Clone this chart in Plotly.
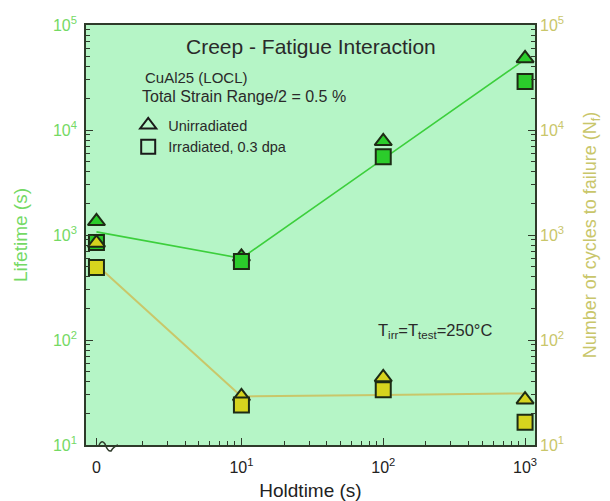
import plotly.graph_objects as go

# Hold time of each test (s); 0 means pure fatigue, drawn left of the axis break
holdtime = [0, 10, 100, 1000]
ZERO_POS = 0.95  # plotting position used for holdtime 0 on the log axis

# Lifetime (s), left axis
lifetime_unirr = [1350, 620, 7800, 48000]
lifetime_irr = [850, 560, 5550, 29000]
lifetime_trend = [1070, 600, 5300, 47000]

# Number of cycles to failure, right axis
cycles_unirr = [840, 29, 44, 27]
cycles_irr = [490, 24, 33.5, 16.5]
cycles_trend = [520, 29, 30, 31]

x_tick_vals = [ZERO_POS, 10, 100, 1000]
x_tick_text = ["0", "10<sup>1</sup>", "10<sup>2</sup>", "10<sup>3</sup>"]
y_tick_vals = [10, 100, 1000, 10000, 100000]
y_tick_text = ["10<sup>1</sup>", "10<sup>2</sup>", "10<sup>3</sup>", "10<sup>4</sup>", "10<sup>5</sup>"]

xpos = [ZERO_POS if h == 0 else h for h in holdtime]

FONT = "Arial, Liberation Sans, sans-serif"
GREEN_LINE = "#3ccf3c"
YELLOW_LINE = "#c9c76a"
GREEN_FILL = "#2bcc2b"
YELLOW_FILL = "#d6d41e"
EDGE = "#1d2b14"
LEFT_COL = "#74d964"
RIGHT_COL = "#c9c66a"
FRAME = "#2e3a2a"

fig = go.Figure()

fig.add_trace(go.Scatter(x=xpos, y=lifetime_trend, mode="lines",
                         line=dict(color=GREEN_LINE, width=1.6),
                         showlegend=False, hoverinfo="skip"))
fig.add_trace(go.Scatter(x=xpos, y=cycles_trend, mode="lines", yaxis="y2",
                         line=dict(color=YELLOW_LINE, width=2),
                         showlegend=False, hoverinfo="skip"))

mk = dict(size=15, line=dict(color=EDGE, width=2))
fig.add_trace(go.Scatter(x=xpos, y=lifetime_unirr, mode="markers", showlegend=False,
                         marker=dict(symbol="triangle-up", color=GREEN_FILL, **mk)))
fig.add_trace(go.Scatter(x=xpos, y=lifetime_irr, mode="markers", showlegend=False,
                         marker=dict(symbol="square", color=GREEN_FILL, **mk)))
fig.add_trace(go.Scatter(x=xpos, y=cycles_unirr, mode="markers", showlegend=False, yaxis="y2",
                         marker=dict(symbol="triangle-up", color=YELLOW_FILL, **mk)))
fig.add_trace(go.Scatter(x=xpos, y=cycles_irr, mode="markers", showlegend=False, yaxis="y2",
                         marker=dict(symbol="square", color=YELLOW_FILL, **mk)))

# Legend keys (open symbols)
fig.add_trace(go.Scatter(x=[None], y=[None], mode="markers", name="Unirradiated",
                         marker=dict(symbol="triangle-up-open", size=14, color="#1a1a1a",
                                     line=dict(width=2))))
fig.add_trace(go.Scatter(x=[None], y=[None], mode="markers", name="Irradiated, 0.3 dpa",
                         marker=dict(symbol="square-open", size=14, color="#1a1a1a",
                                     line=dict(width=2))))

minor_x = [m * d for d in (1, 10, 100) for m in range(2, 10)]
minor_y = [m * d for d in (10, 100, 1000, 10000) for m in range(2, 10)]

fig.update_layout(
    width=610, height=501,
    margin=dict(l=86, r=75, t=25, b=56),
    paper_bgcolor="white",
    plot_bgcolor="#b5f5c6",
    font=dict(family=FONT, size=14, color="#222"),
    xaxis=dict(
        type="log", range=[-0.096, 3.07], automargin=False,
        tickmode="array", tickvals=x_tick_vals, ticktext=x_tick_text,
        ticks="inside", ticklen=7, tickwidth=1.3, tickcolor=FRAME,
        minor=dict(tickmode="array", tickvals=minor_x, ticks="inside", ticklen=4,
                   tickwidth=1, tickcolor=FRAME),
        showgrid=False, zeroline=False,
        showline=True, linecolor=FRAME, linewidth=1.6, mirror=True,
        tickfont=dict(size=16, color="#222"),
        ticklabelstandoff=7,
        title=dict(text="Holdtime (s)", font=dict(size=19, color="#222"), standoff=9),
    ),
    yaxis=dict(
        type="log", range=[1, 5], automargin=False,
        tickmode="array", tickvals=y_tick_vals, ticktext=y_tick_text,
        ticks="inside", ticklen=7, tickwidth=1.3, tickcolor=FRAME,
        minor=dict(tickmode="array", tickvals=minor_y, ticks="inside", ticklen=4,
                   tickwidth=1, tickcolor=FRAME),
        showgrid=False, zeroline=False,
        showline=True, linecolor=FRAME, linewidth=1.6, mirror=True,
        tickfont=dict(size=16, color=LEFT_COL),
        ticklabelstandoff=4,
        title=dict(text="Lifetime (s)", font=dict(size=19, color=LEFT_COL), standoff=20),
    ),
    yaxis2=dict(
        type="log", range=[1, 5], overlaying="y", side="right", automargin=False,
        tickmode="array", tickvals=y_tick_vals, ticktext=y_tick_text,
        ticks="inside", ticklen=7, tickwidth=1.3, tickcolor=FRAME,
        minor=dict(tickmode="array", tickvals=minor_y, ticks="inside", ticklen=4,
                   tickwidth=1, tickcolor=FRAME),
        showgrid=False, zeroline=False, showline=False,
        tickfont=dict(size=16, color=RIGHT_COL),
        ticklabelstandoff=4,
        title=dict(text="Number of cycles to failure (N<sub>f</sub>)",
                   font=dict(size=18, color=RIGHT_COL), standoff=20),
    ),
    legend=dict(x=0.094, y=0.80, xanchor="left", yanchor="top",
                bgcolor="rgba(0,0,0,0)", font=dict(size=14.5, color="#2a2a2a"),
                itemwidth=30, tracegroupgap=0),
    showlegend=True,
)

annots = [
    dict(text="Creep - Fatigue Interaction", x=0.5, y=0.948, size=21, xanchor="center"),
    dict(text="CuAl25 (LOCL)", x=0.126, y=0.874, size=15, xanchor="left"),
    dict(text="Total Strain Range/2 = 0.5 %", x=0.12, y=0.829, size=16, xanchor="left"),
    dict(text="T<sub>irr</sub>=T<sub>test</sub>=250°C", x=0.777, y=0.272, size=16.5, xanchor="center"),
]
for a in annots:
    fig.add_annotation(text=a["text"], x=a["x"], y=a["y"], xref="paper", yref="paper",
                       xanchor=a["xanchor"], yanchor="middle", showarrow=False,
                       font=dict(size=a["size"], color="#2a2a2a", family=FONT))

# Axis break squiggle near the left end of the x axis (paper coords, plot 449x420 px)
def px(xp, yp):
    return f"{(xp - 86) / 449:.4f},{(445 - yp) / 420:.4f}"

squiggle = ("M " + px(99, 445) + " Q " + px(102, 439) + " " + px(105, 444)
            + " Q " + px(108, 452) + " " + px(111, 451) + " Q " + px(114, 446) + " " + px(118, 445))
fig.add_shape(type="path", path=squiggle, xref="paper", yref="paper",
              line=dict(color=FRAME, width=1.5))

fig.write_html("out.html")
